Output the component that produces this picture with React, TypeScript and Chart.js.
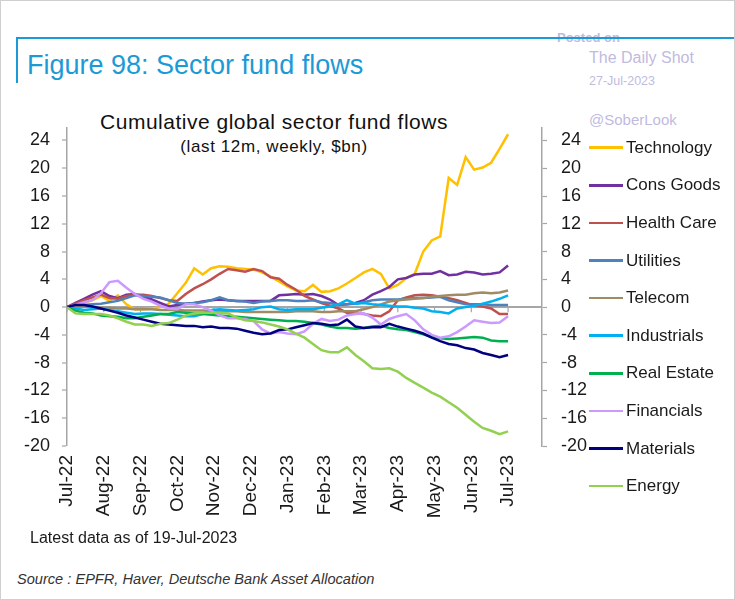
import React, { useEffect, useRef } from "react";
import { Chart, registerables } from "chart.js";

Chart.register(...registerables);

const FONT = "'Liberation Sans', Arial, Helvetica, sans-serif";

const monthLabels = ["Jul-22", "Aug-22", "Sep-22", "Oct-22", "Nov-22", "Dec-22", "Jan-23", "Feb-23", "Mar-23", "Apr-23", "May-23", "Jun-23", "Jul-23"];
const yTicks = [-20, -16, -12, -8, -4, 0, 4, 8, 12, 16, 20, 24];

const seriesNames = ["Technology", "Cons Goods", "Health Care", "Utilities", "Telecom", "Industrials", "Real Estate", "Financials", "Materials", "Energy"];
const seriesColors = ["#FFC000", "#7030A0", "#C0504D", "#4F81BD", "#A08C64", "#00B0F0", "#00B050", "#CC99FF", "#000080", "#92D050"];

const technology = [0, 0.3, 0.6, 1.0, 1.6, 0.9, 1.7, 0.4, -0.3, -0.3, -0.2, 0.0, 0.5, 2.0, 3.5, 5.6, 4.7, 5.6, 5.9, 5.8, 5.6, 5.5, 5.4, 5.0, 4.4, 3.7, 3.0, 2.4, 2.3, 3.2, 2.2, 2.3, 2.7, 3.4, 4.2, 5.0, 5.5, 4.8, 2.7, 3.2, 4.2, 4.8, 8.0, 9.6, 10.2, 18.6, 17.6, 21.6, 19.8, 20.1, 20.8, 22.8, 24.9];
const consGoods = [0, 0.6, 1.2, 1.8, 2.3, 1.6, 1.3, 1.8, 1.9, 1.5, 1.1, 0.6, 0.1, 0.3, 0.5, 0.6, 0.8, 1.0, 1.1, 1.0, 0.9, 0.9, 0.9, 0.9, 0.9, 1.7, 1.8, 1.9, 1.8, 1.9, 1.6, 1.1, 0.3, 0.4, 0.6, 1.0, 1.8, 2.3, 2.9, 4.0, 4.2, 4.7, 4.8, 4.8, 5.2, 4.6, 4.7, 5.1, 5.0, 4.7, 4.8, 5.0, 6.0];
const healthCare = [0, 0.5, 1.0, 1.4, 1.8, 1.3, 1.2, 1.6, 1.8, 1.8, 1.6, 1.3, 1.0, 0.9, 1.9, 2.7, 3.3, 4.0, 4.8, 5.5, 5.3, 5.1, 5.5, 5.2, 4.3, 4.1, 3.2, 2.5, 1.6, 1.1, 0.6, 0.2, -0.2, -0.8, -0.9, -1.0, -1.2, -1.3, -0.6, 1.0, 1.4, 1.7, 1.8, 1.7, 1.5, 1.3, 1.0, 0.6, 0.2, 0.1, -0.2, -1.0, -1.0];
const utilities = [0, 0.2, 0.3, 0.4, 0.5, 0.7, 0.9, 1.3, 1.7, 1.6, 1.5, 1.4, 1.0, 0.6, 0.5, 0.6, 0.7, 1.0, 1.4, 1.0, 0.9, 0.8, 0.6, 0.8, 0.9, 1.0, 1.0, 0.9, 0.9, 1.0, 0.7, 0.6, 0.3, 0.4, 0.5, 0.7, 1.0, 1.1, 1.1, 1.1, 1.2, 1.3, 1.3, 1.4, 1.5, 1.0, 0.7, 0.4, 0.4, 0.4, 0.3, 0.3, 0.3];
const telecom = [0, 0.1, 0.1, 0, -0.1, -0.1, -0.2, -0.2, -0.3, -0.3, -0.3, -0.4, -0.4, -0.4, -0.5, -0.5, -0.5, -0.6, -0.6, -0.6, -0.6, -0.7, -0.7, -0.7, -0.7, -0.7, -0.7, -0.6, -0.6, -0.6, -0.7, -0.7, -0.6, -0.6, -0.6, -0.3, 0.0, 0.4, 0.8, 1.0, 1.1, 1.2, 1.3, 1.5, 1.6, 1.7, 1.8, 1.8, 2.0, 2.1, 2.0, 2.1, 2.4];
const industrials = [0, -0.2, -0.4, -0.3, -0.2, -0.4, -0.6, -0.8, -1.0, -0.9, -0.9, -1.0, -1.1, -1.2, -1.3, -1.3, -1.0, -0.4, -0.3, -0.4, -0.5, -0.4, -0.3, 0.0, 0.1, -0.3, -0.4, -0.3, -0.3, -0.3, -0.1, 0.1, 0.4, 1.0, 0.5, 0.6, 0.4, 0.3, 0.2, 0.1, 0.1, -0.1, -0.2, -0.6, -0.7, -0.9, -0.2, 0.0, 0.2, 0.5, 0.8, 1.2, 1.7];
const realEstate = [0, -0.5, -0.8, -0.9, -1.2, -1.3, -1.4, -1.6, -1.6, -1.4, -1.2, -1.0, -1.0, -0.7, -0.8, -0.9, -1.0, -1.1, -1.2, -1.3, -1.4, -1.5, -1.6, -1.7, -1.8, -1.9, -2.0, -2.0, -2.1, -2.3, -2.5, -2.8, -3.0, -3.0, -3.1, -3.0, -2.8, -2.7, -3.0, -3.2, -3.3, -3.6, -3.9, -4.3, -4.5, -4.6, -4.5, -4.4, -4.3, -4.4, -4.8, -4.9, -4.9];
const financials = [0, 0.3, 0.7, 1.0, 2.0, 3.6, 3.8, 2.8, 1.9, 1.2, 0.8, 0.2, -0.2, -0.3, 0.4, 0.4, 0.0, -0.5, -1.2, -1.6, -1.6, -1.7, -2.0, -3.2, -3.8, -3.6, -3.8, -3.9, -3.5, -2.4, -1.7, -2.0, -1.8, -1.2, -1.0, -0.9, -1.5, -2.5, -1.7, -1.3, -1.0, -1.9, -3.2, -4.0, -4.4, -4.2, -3.6, -2.8, -1.9, -2.1, -2.3, -2.2, -1.3];
const materials = [0, 0.3, 0.3, 0.1, -0.2, -0.5, -0.8, -1.2, -1.5, -1.8, -2.1, -2.4, -2.5, -2.6, -2.7, -2.7, -2.9, -2.8, -3.0, -3.0, -3.1, -3.4, -3.7, -3.9, -3.8, -3.3, -3.2, -2.9, -2.6, -2.3, -2.4, -2.6, -2.5, -1.8, -2.8, -3.0, -2.9, -2.9, -2.4, -2.8, -3.1, -3.4, -3.8, -4.4, -4.9, -5.3, -5.5, -5.9, -6.1, -6.6, -6.9, -7.2, -6.9];
const energy = [0, -0.9, -1.0, -1.0, -1.0, -1.2, -1.6, -2.1, -2.5, -2.5, -2.7, -2.4, -2.3, -1.8, -1.2, -0.9, -0.8, -0.8, -0.8, -0.9, -1.5, -1.9, -2.0, -2.2, -2.5, -2.8, -3.2, -3.8, -4.4, -5.3, -6.2, -6.5, -6.5, -5.8, -6.9, -7.8, -8.8, -8.9, -8.8, -9.3, -10.2, -10.9, -11.6, -12.3, -12.9, -13.7, -14.5, -15.5, -16.5, -17.4, -17.8, -18.3, -17.9];

const seriesValues = [technology, consGoods, healthCare, utilities, telecom, industrials, realEstate, financials, materials, energy];

const WEEKS = 52;
const AXIS_GRAY = "#a6a6a6";

function Txt(props: { text: string; left: number; baseline: number; size: number; center?: boolean; style?: React.CSSProperties }) {
  const { text, left, baseline, size, center, style } = props;
  return (
    <div
      style={{
        position: "absolute",
        left,
        top: baseline - 0.8465 * size,
        fontSize: size,
        lineHeight: `${size}px`,
        fontFamily: FONT,
        whiteSpace: "nowrap",
        transform: center ? "translateX(-50%)" : undefined,
        ...style,
      }}
    >
      {text}
    </div>
  );
}

export default function App() {
  const canvasRef = useRef<HTMLCanvasElement | null>(null);

  useEffect(() => {
    const canvas = canvasRef.current;
    if (!canvas) return;

    const zeroTicks = {
      id: "zeroTicks",
      beforeDatasetsDraw(chart: any) {
        const xs = chart.scales.x;
        const ys = chart.scales.y;
        const ctx = chart.ctx;
        const y0 = ys.getPixelForValue(0);
        ctx.save();
        ctx.strokeStyle = AXIS_GRAY;
        ctx.lineWidth = 1.2;
        monthLabels.forEach((_, i) => {
          const px = xs.getPixelForValue((i * WEEKS) / 12);
          ctx.beginPath();
          ctx.moveTo(px, y0);
          ctx.lineTo(px, y0 + 5);
          ctx.stroke();
        });
        ctx.restore();
      },
    };

    const tickFont = { family: FONT, size: 18 };

    const chart = new Chart(canvas, {
      type: "line",
      data: {
        datasets: seriesNames.map((name, k) => ({
          label: name,
          data: seriesValues[k].map((v, i) => ({ x: i, y: v })),
          borderColor: seriesColors[k],
          backgroundColor: seriesColors[k],
          borderWidth: 2.5,
          pointRadius: 0,
          tension: 0,
          order: seriesNames.length - k,
          yAxisID: "y",
        })),
      },
      options: {
        animation: false,
        responsive: false,
        maintainAspectRatio: false,
        layout: { padding: { top: 27, left: 0, right: 0, bottom: 0 } },
        plugins: {
          legend: { display: false },
          tooltip: { enabled: false },
          title: { display: false },
        },
        scales: {
          x: {
            type: "linear",
            min: 0,
            max: 56,
            afterBuildTicks: (s: any) => {
              s.ticks = monthLabels.map((_, i) => ({ value: (i * WEEKS) / 12 }));
            },
            afterFit: (s: any) => {
              s.height = 85;
            },
            ticks: {
              autoSkip: false,
              maxRotation: 90,
              minRotation: 90,
              padding: 9,
              color: "#1a1a1a",
              font: { family: FONT, size: 19 },
              callback: (_v: any, i: number) => monthLabels[i],
            },
            grid: { display: false, drawTicks: false },
            border: { display: false },
          },
          y: {
            position: "left",
            min: -20,
            max: 25.8,
            afterBuildTicks: (s: any) => {
              s.ticks = yTicks.map((v) => ({ value: v }));
            },
            afterFit: (s: any) => {
              s.width = 66;
            },
            ticks: { padding: 12, color: "#1a1a1a", font: tickFont },
            grid: {
              drawOnChartArea: true,
              color: (c: any) => (c.tick && c.tick.value === 0 ? AXIS_GRAY : "rgba(0,0,0,0)"),
              lineWidth: (c: any) => (c.tick && c.tick.value === 0 ? 2 : 0),
              drawTicks: true,
              tickLength: 5,
              tickColor: AXIS_GRAY,
              tickWidth: 1.2,
            },
            border: { display: true, color: AXIS_GRAY, width: 1.5 },
          },
          y2: {
            position: "right",
            min: -20,
            max: 25.8,
            afterBuildTicks: (s: any) => {
              s.ticks = yTicks.map((v) => ({ value: v }));
            },
            afterFit: (s: any) => {
              s.width = 59;
            },
            ticks: { padding: 14, color: "#1a1a1a", font: tickFont },
            grid: {
              drawOnChartArea: false,
              drawTicks: true,
              tickLength: 5,
              tickColor: AXIS_GRAY,
              tickWidth: 1.2,
            },
            border: { display: true, color: AXIS_GRAY, width: 1.5 },
          },
        },
      } as any,
      plugins: [zeroTicks],
    });

    return () => {
      chart.destroy();
    };
  }, []);

  const lavender = "#bfbbe0";

  return (
    <div
      style={{
        position: "absolute",
        left: 0,
        top: 0,
        width: 735,
        height: 600,
        boxSizing: "border-box",
        border: "1px solid #cfcfcf",
        background: "#ffffff",
        overflow: "hidden",
        fontFamily: FONT,
      }}
    >
      <Txt text="Posted on" left={556} baseline={41} size={13} style={{ color: lavender, fontWeight: "bold" }} />
      <div style={{ position: "absolute", left: 15, top: 36, width: 720, height: 2, background: "#1c9ad6" }} />
      <div style={{ position: "absolute", left: 15, top: 36, width: 2, height: 46, background: "#1c9ad6" }} />
      <Txt text="Figure 98: Sector fund flows" left={26} baseline={74} size={27} style={{ color: "#1c9ad6" }} />
      <Txt text="The Daily Shot" left={588} baseline={63} size={16} style={{ color: lavender }} />
      <Txt text="27-Jul-2023" left={588} baseline={85} size={12.5} style={{ color: lavender }} />
      <Txt text="@SoberLook" left={588} baseline={124} size={15} style={{ color: lavender }} />

      <Txt text="Cumulative global sector fund flows" left={273} baseline={128} size={21} center style={{ color: "#111", letterSpacing: "0.5px" }} />
      <Txt text="(last 12m, weekly, $bn)" left={273} baseline={151} size={17} center style={{ color: "#111", letterSpacing: "0.6px" }} />

      <canvas
        ref={canvasRef}
        width={600}
        height={430}
        style={{ position: "absolute", left: 0, top: 100, width: 600, height: 430 }}
      />

      {seriesNames.map((name, k) => (
        <div
          key={name}
          style={{
            position: "absolute",
            left: 588,
            top: 146.7 + k * 37.6 - 10,
            height: 20,
            display: "flex",
            alignItems: "center",
            whiteSpace: "nowrap",
          }}
        >
          <span style={{ display: "inline-block", width: 34, height: 2.5, background: seriesColors[k] }} />
          <span style={{ marginLeft: 3, fontSize: 17, fontFamily: FONT, color: "#1a1a1a" }}>{name}</span>
        </div>
      ))}

      <Txt text="Latest data as of 19-Jul-2023" left={29} baseline={543} size={16} style={{ color: "#1a1a1a" }} />
      <Txt
        text="Source : EPFR, Haver, Deutsche Bank Asset Allocation"
        left={16}
        baseline={583}
        size={14.6}
        style={{ color: "#333", fontStyle: "italic" }}
      />
    </div>
  );
}
